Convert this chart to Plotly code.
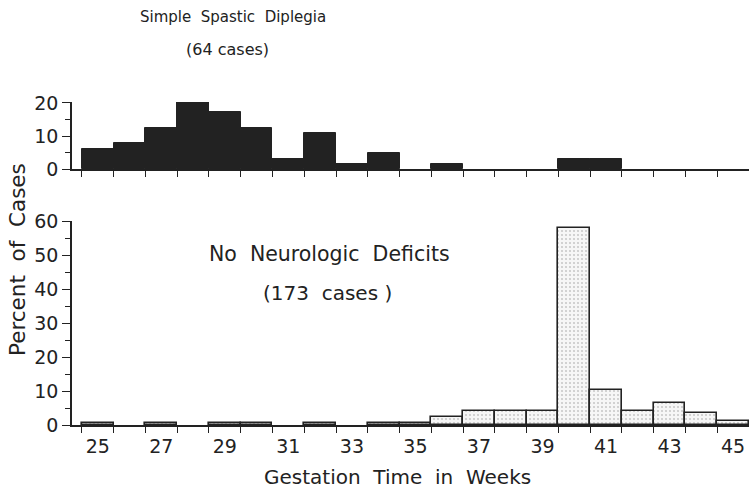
import plotly.graph_objects as go

# Gestation week of each one-week class
weeks = list(range(25, 46))

# Percent of cases per week, simple spastic diplegia (64 cases)
spastic_pct = [6.2, 7.8, 12.5, 20.3, 17.2, 12.5, 3.1, 10.9, 1.6, 4.7,
               0, 1.6, 0, 0, 0, 3.1, 3.1, 0, 0, 0, 0]

# Percent of cases per week, no neurologic deficits (173 cases)
normal_pct = [0.6, 0, 0.6, 0, 0.6, 0.6, 0, 0.6, 0, 0.6,
              0.6, 2.3, 4.0, 4.0, 4.0, 57.8, 10.4, 4.0, 6.4, 3.5, 1.2]

x_labels = [str(w) for w in weeks if w % 2 == 1]
x_label_vals = [w for w in weeks if w % 2 == 1]
bin_edges = [w - 0.5 for w in weeks] + [weeks[-1] + 0.5]

W, H = 749, 492
L = 72
INK = "#222222"
FONT = "DejaVu Sans"


def py(pix):
    return 1 - pix / H


def px(pix):
    return (pix - L) / (W - L)


sp_x = [w for w, v in zip(weeks, spastic_pct) if v > 0]
sp_y = [v for v in spastic_pct if v > 0]
nn_x = [w for w, v in zip(weeks, normal_pct) if v > 0]
nn_y = [v for v in normal_pct if v > 0]

fig = go.Figure()
fig.add_trace(go.Bar(
    x=sp_x, y=sp_y, width=1.0, xaxis="x", yaxis="y",
    marker=dict(color=INK, line=dict(color=INK, width=1)),
    showlegend=False,
))
fig.add_trace(go.Bar(
    x=nn_x, y=nn_y, width=1.0, xaxis="x2", yaxis="y2",
    marker=dict(
        color="#f4f4f4",
        line=dict(color=INK, width=1.6),
        pattern=dict(shape=".", fgcolor="#999999", bgcolor="#f6f6f6",
                     size=4, solidity=0.22),
    ),
    showlegend=False,
))

xr = [24.19, 45.5]
axis_common = dict(showgrid=False, zeroline=False, showline=True,
                   linecolor=INK, linewidth=1.5, range=xr, automargin=False,
                   tickfont=dict(family=FONT, size=19, color=INK))
yaxis_common = dict(showgrid=False, zeroline=False, showline=True,
                    linecolor=INK, linewidth=1.5, automargin=False,
                    ticks="outside", ticklen=8, tickwidth=1.3, tickcolor=INK,
                    tickfont=dict(family=FONT, size=19, color=INK))
minor_y = dict(ticks="outside", ticklen=5, tickwidth=1.3, tickcolor=INK)

fig.update_layout(
    width=W, height=H, autosize=False,
    margin=dict(l=L, r=0, t=0, b=0, pad=0, autoexpand=False),
    paper_bgcolor="white", plot_bgcolor="white",
    bargap=0,
    font=dict(family=FONT, color=INK),
    xaxis=dict(**axis_common, anchor="y", domain=[0, 1],
               tickvals=bin_edges, ticks="outside", ticklen=6,
               tickwidth=1.3, tickcolor=INK, showticklabels=False),
    xaxis2=dict(**axis_common, anchor="y2", domain=[0, 1],
                tickvals=x_label_vals, ticktext=x_labels, ticks="",
                ticklabelstandoff=3,
                minor=dict(tickvals=bin_edges, ticks="outside", ticklen=6,
                           tickwidth=1.3, tickcolor=INK)),
    yaxis=dict(**yaxis_common, domain=[py(169), py(102)], range=[0, 20.3],
               tickvals=[0, 10, 20],
               minor=dict(**minor_y, tickvals=[5, 15])),
    yaxis2=dict(**yaxis_common, domain=[py(425), py(221)], range=[0, 60],
                tickvals=[0, 10, 20, 30, 40, 50, 60],
                minor=dict(**minor_y, tickvals=[5, 15, 25, 35, 45, 55])),
)

texts = [
    ("Simple  Spastic  Diplegia", 233, 17, 15, 0),
    ("(64 cases)", 227, 49, 16, 0),
    ("No  Neurologic  Deficits", 329, 254, 20.5, 0),
    ("(173  cases )", 327, 293, 20, 0),
    ("Gestation  Time  in  Weeks", 397, 477, 20, 0),
    ("Percent  of  Cases", 17, 260, 21.5, -90),
]
for t, x, y, s, ang in texts:
    fig.add_annotation(text=t, xref="paper", yref="paper", x=px(x), y=py(y),
                       xanchor="center", yanchor="middle", showarrow=False,
                       textangle=ang, font=dict(family=FONT, size=s, color=INK))

fig.write_html("out.html")
